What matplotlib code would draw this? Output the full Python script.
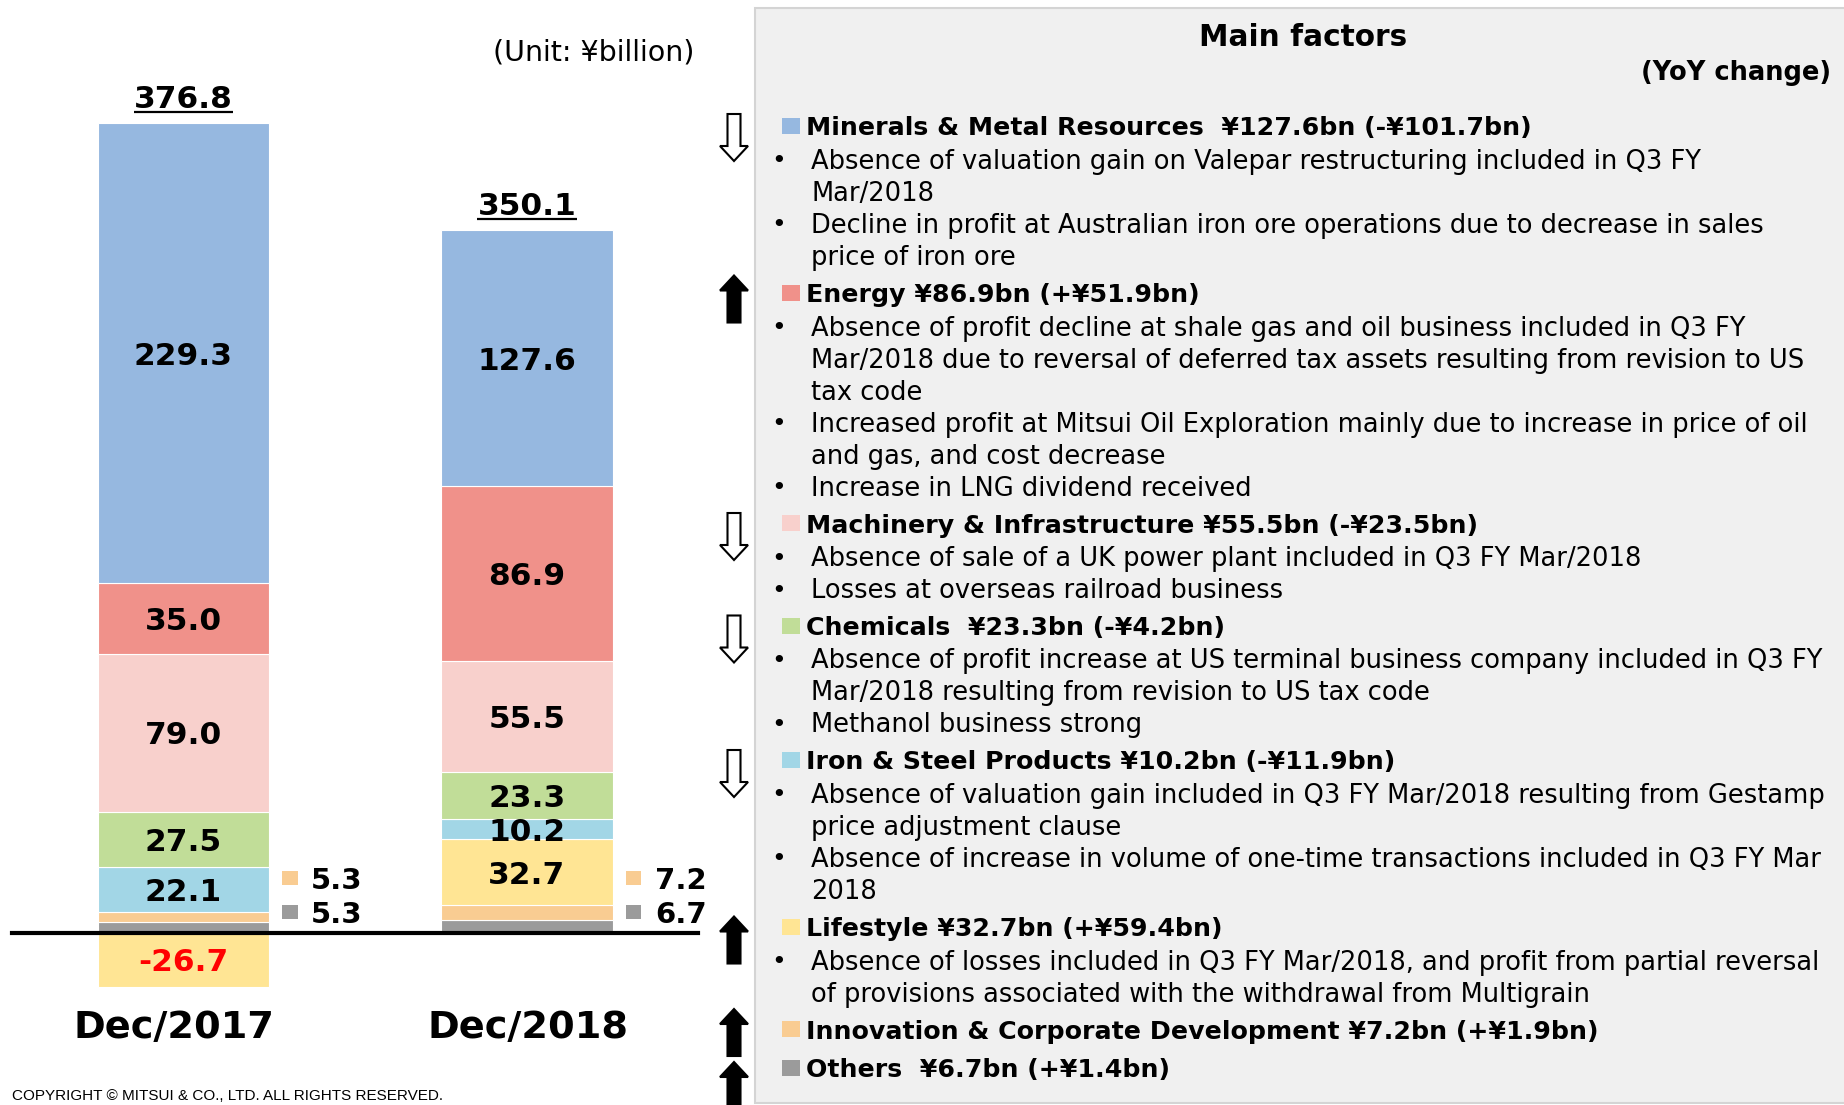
import matplotlib
matplotlib.use("Agg")
import matplotlib.pyplot as plt
from matplotlib.patches import Rectangle, Polygon

# segments, stacked from the bottom up
segments = ["Others", "Innovation & Corporate Development", "Lifestyle",
            "Iron & Steel Products", "Chemicals", "Machinery & Infrastructure",
            "Energy", "Minerals & Metal Resources"]
seg_colors = ["#9B9B9B", "#F9CC92", "#FFE594", "#A2D6E6", "#C1DD98",
              "#F8D0CC", "#F0918A", "#96B8E0"]
periods = ["Dec/2017", "Dec/2018"]
values_2017 = [5.3, 5.3, -26.7, 22.1, 27.5, 79.0, 35.0, 229.3]
values_2018 = [6.7, 7.2, 32.7, 10.2, 23.3, 55.5, 86.9, 127.6]

# right panel: order of factors and their explanations
factor_order = ["Minerals & Metal Resources", "Energy", "Machinery & Infrastructure",
                "Chemicals", "Iron & Steel Products", "Lifestyle",
                "Innovation & Corporate Development", "Others"]
factor_sep = {"Minerals & Metal Resources": "  ", "Chemicals": "  ", "Others": "  "}
factor_bullets = {
    "Minerals & Metal Resources": [
        ["Absence of valuation gain on Valepar restructuring included in Q3 FY",
         "Mar/2018"],
        ["Decline in profit at Australian iron ore operations due to decrease in sales",
         "price of iron ore"],
    ],
    "Energy": [
        ["Absence of profit decline at shale gas and oil business included in Q3 FY",
         "Mar/2018 due to reversal of deferred tax assets resulting from revision to US",
         "tax code"],
        ["Increased profit at Mitsui Oil Exploration mainly due to increase in price of oil",
         "and gas, and cost decrease"],
        ["Increase in LNG dividend received"],
    ],
    "Machinery & Infrastructure": [
        ["Absence of sale of a UK power plant included in Q3 FY Mar/2018"],
        ["Losses at overseas railroad business"],
    ],
    "Chemicals": [
        ["Absence of profit increase at US terminal business company included in Q3 FY",
         "Mar/2018 resulting from revision to US tax code"],
        ["Methanol business strong"],
    ],
    "Iron & Steel Products": [
        ["Absence of valuation gain included in Q3 FY Mar/2018 resulting from Gestamp",
         "price adjustment clause"],
        ["Absence of increase in volume of one-time transactions included in Q3 FY Mar",
         "2018"],
    ],
    "Lifestyle": [
        ["Absence of losses included in Q3 FY Mar/2018, and profit from partial reversal",
         "of provisions associated with the withdrawal from Multigrain"],
    ],
    "Innovation & Corporate Development": [],
    "Others": [],
}
# where each arrow starts relative to its heading (pixels)
arrow_shift = [-12, -17, -10, -10, -10, -10, -20, -6]

W, H = 1844, 1105
fig = plt.figure(figsize=(W / 100, H / 100), dpi=100)
fig.patch.set_facecolor("white")

# ---- bar chart (left) ----
base_px, px_per_unit = 933, 2.007
ax = fig.add_axes([0, 0, 755 / W, 1])
ax.set_xlim(-183.5 / 343.5, (755 - 183.5) / 343.5)
ax.set_ylim((base_px - H) / px_per_unit, base_px / px_per_unit)
ax.axis("off")

bar_w = 0.5
period_dx = [-0.028, 0.003]
for xi, vals in enumerate([values_2017, values_2018]):
    pos, neg = 0.0, 0.0
    for name, v, c in zip(segments, vals, seg_colors):
        if v >= 0:
            bottom = pos
            pos += v
        else:
            bottom = neg + v
            neg += v
        ax.bar(xi, abs(v), bottom=bottom, width=bar_w, color=c,
               edgecolor="white", linewidth=0.8, zorder=2)
        mid = bottom + abs(v) / 2
        if name in ("Others", "Innovation & Corporate Development"):
            continue
        ax.text(xi, mid, f"{v:.1f}", ha="center", va="center_baseline", fontsize=22.5,
                fontweight="bold", color="red" if v < 0 else "black", zorder=3)
    total = sum(vals)
    ax.text(xi, pos + 13.5, f"{total:.1f}", ha="center", va="center_baseline",
            fontsize=22.5, fontweight="bold", zorder=3)
    ax.plot([xi - 0.145, xi + 0.145], [pos + 5.5, pos + 5.5], color="black",
            lw=1.6, solid_capstyle="butt")
    ax.text(xi + period_dx[xi], -47.5, periods[xi], ha="center", va="center",
            fontsize=27.5, fontweight="bold")
    # small values beside the bar (Innovation, Others)
    for k, yv in ((1, 27.4), (0, 10.5)):
        ax.add_patch(Rectangle((xi + 0.287, yv - 3.7), 0.045, 7.4,
                               facecolor=seg_colors[k], edgecolor="none"))
        ax.text(xi + 0.372, yv, f"{vals[k]:.1f}", ha="left", va="center_baseline",
                fontsize=21, fontweight="bold")

ax.axhline(0, xmin=12 / 755, xmax=698 / 755, color="black", lw=3, zorder=4)

# ---- overlay in pixel coordinates ----
ov = fig.add_axes([0, 0, 1, 1])
ov.set_xlim(0, W)
ov.set_ylim(H, 0)
ov.axis("off")

ov.text(694, 52, "(Unit: \u00a5billion)", ha="right", va="center", fontsize=20.5)
ov.text(12, 1103, "COPYRIGHT \u00a9 MITSUI & CO., LTD. ALL RIGHTS RESERVED.",
        ha="left", va="bottom", fontsize=11, family="Liberation Sans")

ov.add_patch(Rectangle((755, 8), 1100, 1095, facecolor="#F0F0F0",
                       edgecolor="#D4D4D4", lw=1.5, zorder=0))
ov.text(1303, 38, "Main factors", ha="center", va="center", fontsize=21.3,
        fontweight="bold")
ov.text(1831, 73, "(YoY change)", ha="right", va="center", fontsize=18.5,
        fontweight="bold")


def arrow(cx, top, up, filled):
    sw, hw, ln, hl = 6.5, 14, 47, 15
    if up:
        pts = [(cx, top), (cx + hw, top + hl), (cx + sw, top + hl), (cx + sw, top + ln),
               (cx - sw, top + ln), (cx - sw, top + hl), (cx - hw, top + hl)]
    else:
        pts = [(cx - sw, top), (cx + sw, top), (cx + sw, top + ln - hl),
               (cx + hw, top + ln - hl), (cx, top + ln), (cx - hw, top + ln - hl),
               (cx - sw, top + ln - hl)]
    ov.add_patch(Polygon(pts, closed=True, facecolor="black" if filled else "white",
                         edgecolor="black", lw=1.5, zorder=3, clip_on=False))


y = 126
for i, name in enumerate(factor_order):
    k = segments.index(name)
    v17, v18 = values_2017[k], values_2018[k]
    diff = v18 - v17
    sign = "+" if diff > 0 else "-"
    header = f"{name}{factor_sep.get(name, ' ')}\u00a5{v18:.1f}bn ({sign}\u00a5{abs(diff):.1f}bn)"
    ov.add_patch(Rectangle((782, y - 8), 18, 16, facecolor=seg_colors[k],
                           edgecolor="none"))
    ov.text(806, y, header, ha="left", va="center_baseline", fontsize=18.2,
            fontweight="bold")
    arrow(734, y + arrow_shift[i], diff > 0, diff > 0)
    items = factor_bullets[name]
    for item in items:
        for j, line in enumerate(item):
            y += 32 if not (j == 0 and item is items[0]) else 33
            if j == 0:
                ov.text(779, y, "\u2022", ha="center", va="center_baseline",
                        fontsize=18)
            ov.text(811, y, line, ha="left", va="center_baseline", fontsize=18.5)
    y += 37.5 if items else 39

fig.savefig("out.png", dpi=100)
